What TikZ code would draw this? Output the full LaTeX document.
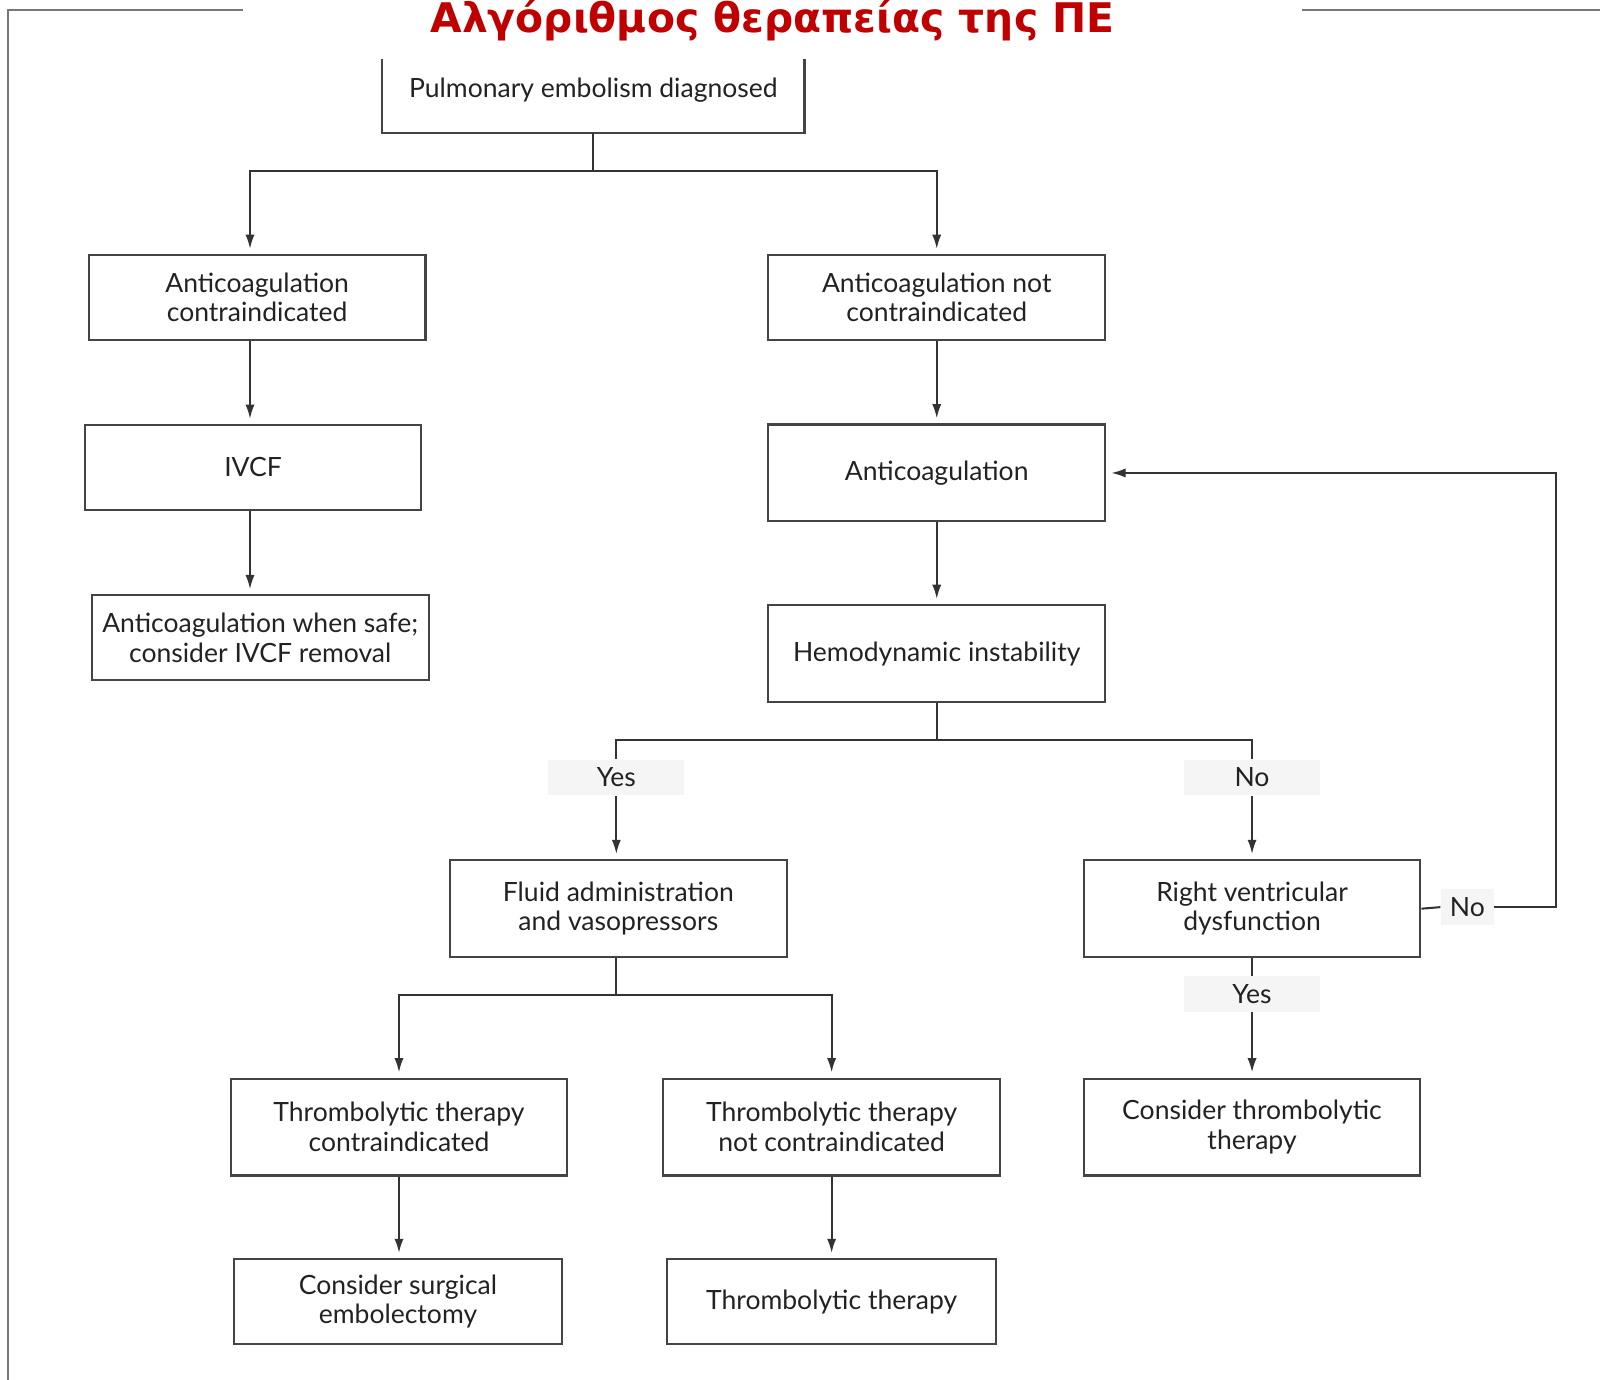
\documentclass[tikz,border=0pt]{standalone}
\usepackage{fontspec}
\setmainfont{Lato}
\newfontfamily\titlefont{DejaVu Sans}
\usetikzlibrary{arrows.meta,calc}
\definecolor{ln}{HTML}{333333}
\definecolor{boxc}{HTML}{444444}
\definecolor{txt}{HTML}{222222}
\definecolor{labbg}{HTML}{F5F5F5}
\definecolor{framec}{HTML}{777777}
\definecolor{titlec}{HTML}{C00000}
\begin{document}
\begin{tikzpicture}[x=0.5pt,y=-0.5pt,
  boxtext/.style={align=center, font=\fontsize{13}{14.5}\selectfont, text=txt, inner sep=0pt},
  box/.style={boxtext, draw=boxc, line width=1pt, minimum width=165pt},
  hA/.style={minimum height=41.5pt},
  hB/.style={minimum height=47.5pt},
  lab/.style={fill=labbg, minimum width=66.5pt, minimum height=17.5pt, inner sep=0pt, font=\fontsize{13}{14.5}\selectfont, text=txt},
  conn/.style={draw=ln, line width=1pt},
  arr/.style={conn, -{Latex[length=7pt,width=4.5pt]}, shorten >=2.5pt},
  framel/.style={draw=framec, line width=1pt}]
\useasboundingbox (0,0) rectangle (1568,1352);
% frame
\coordinate (f1) at (238,10);
\coordinate (f2) at (8,10);
\coordinate (f3) at (8,1352);
\coordinate (f4) at (1276,10);
\coordinate (f5) at (1568,10);
\draw[framel] (f1) -- (f2) -- (f3);
\draw[framel] (f4) -- (f5);
% title
\node[font=\titlefont\bfseries\fontsize{20}{24}\selectfont, text=titlec] (title) at (757,20) {Αλγόριθμος θεραπείας της ΠΕ};
% boxes
\node[boxtext, minimum width=206.5pt, minimum height=36pt, text depth=0pt] (top) at (581.5,94) {};
\node[boxtext] (toptext) at (581.5,88) {Pulmonary embolism diagnosed};
\draw[boxc, line width=1pt] (top.north west) -- (top.south west) -- (top.south east) -- (top.north east);
\node[box,hA] (a1) at (252,291.5) {Anticoagulation\\contraindicated};
\node[box,hA] (a2) at (918,291.5) {Anticoagulation not\\contraindicated};
\node[box,hA] (ivcf) at (248,458) {IVCF};
\node[box,hA] (safe) at (255,625) {Anticoagulation when safe;\\consider IVCF removal};
\node[box,hB] (anti) at (918,463.5) {Anticoagulation};
\node[box,hB] (hemo) at (918,640.5) {Hemodynamic instability};
\node[box,hB] (fluid) at (606,890.5) {Fluid administration\\and vasopressors};
\node[box,hB] (rv) at (1227,890.5) {Right ventricular\\dysfunction};
\node[box,hB] (tc) at (391,1104.5) {Thrombolytic therapy\\contraindicated};
\node[box,hB] (tnc) at (815,1104.5) {Thrombolytic therapy\\not contraindicated};
\node[box,hB] (ctt) at (1227,1104.5) {Consider thrombolytic\\therapy};
\node[box,hA,minimum width=161pt] (surg) at (390,1275.5) {Consider surgical\\embolectomy};
\node[box,hA,minimum width=161pt] (tt) at (815,1275.5) {Thrombolytic therapy};
% labels
\node[lab] (yes1) at (604,762) {Yes};
\node[lab] (no1) at (1227,762) {No};
\node[lab] (yes2) at (1227,974) {Yes};
\node[lab, minimum width=26pt] (no2) at (1438,889) {No};
% connectors
\coordinate (lc) at (245,0);
\coordinate (j1) at (581.5,168);
\draw[conn] (top.south) -- (j1);
\draw[arr] (j1) -| (a1.north -| lc);
\draw[arr] (j1) -| (a2.north);
\draw[arr] (a1.south -| lc) -- (ivcf.north -| lc);
\draw[arr] (ivcf.south -| lc) -- (safe.north -| lc);
\draw[arr] (a2.south) -- (anti.north);
\draw[arr] (anti.south) -- (hemo.north);
\coordinate (j2) at (918,725);
\draw[conn] (hemo.south) -- (j2);
\draw[conn] (j2) -| (yes1.north);
\draw[conn] (j2) -| (no1.north);
\draw[arr] (yes1.south) -- (yes1.south |- fluid.north);
\draw[arr] (no1.south) -- (rv.north);
\draw[conn] (rv.south) -- (yes2.north);
\draw[arr] (yes2.south) -- (ctt.north);
\coordinate (fb) at (1525,889);
\draw[conn] (rv.east) -- (no2.west);
\draw[arr] (no2.east) -- (fb) |- (anti.east);
\coordinate (j3) at (604,975);
\draw[conn] (fluid.south -| j3) -- (j3);
\draw[arr] (j3) -| (tc.north);
\draw[arr] (j3) -| (tnc.north);
\draw[arr] (tc.south) -- (tc.south |- surg.north);
\draw[arr] (tnc.south) -- (tt.north);
\end{tikzpicture}
\end{document}
